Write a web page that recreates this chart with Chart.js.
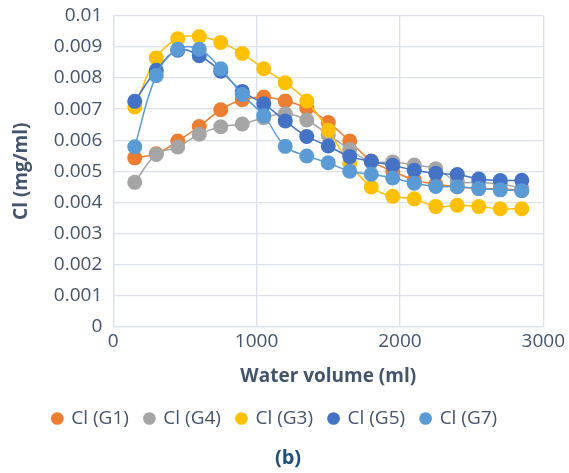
<!DOCTYPE html>
<html lang="en">
<head>
  <meta charset="UTF-8">
  <title>Cl vs water volume</title>
  <script src="https://cdn.jsdelivr.net/npm/chart.js"></script>
  <style>
    html, body {
      margin: 0;
      padding: 0;
      background: #fff;
    }
    #wrap {
      width: 569px;
      height: 473px;
    }
  </style>
</head>
<body>
  <div id="wrap"><canvas id="clChart"></canvas></div>
  <script>
    // water volume (ml)
    const volumes = [150, 300, 450, 600, 750, 900, 1050, 1200, 1350, 1500, 1650, 1800, 1950, 2100, 2250, 2400, 2550, 2700, 2850];

    // Cl (mg/ml) per series
    const clG1 = [0.00543, 0.00556, 0.00597, 0.00644, 0.00698, 0.00730, 0.00739, 0.00726, 0.00704, 0.00657, 0.00597, 0.00533, 0.00500, 0.00472, 0.00458, 0.00450, 0.00444, 0.00443, 0.00438];
    const clG4 = [0.00464, 0.00554, 0.00578, 0.00619, 0.00643, 0.00652, 0.00672, 0.00685, 0.00665, 0.00617, 0.00570, 0.00530, 0.00530, 0.00520, 0.00508, 0.00467, 0.00464, 0.00459, 0.00446];
    const clG3 = [0.00707, 0.00865, 0.00927, 0.00934, 0.00915, 0.00879, 0.00830, 0.00785, 0.00726, 0.00632, 0.00525, 0.00449, 0.00419, 0.00411, 0.00386, 0.00390, 0.00386, 0.00379, 0.00379];
    const clG5 = [0.00725, 0.00825, 0.00890, 0.00872, 0.00822, 0.00757, 0.00717, 0.00662, 0.00612, 0.00581, 0.00547, 0.00532, 0.00519, 0.00503, 0.00493, 0.00489, 0.00475, 0.00470, 0.00471];
    const clG7 = [0.00579, 0.00808, 0.00893, 0.00893, 0.00830, 0.00747, 0.00679, 0.00580, 0.00549, 0.00527, 0.00500, 0.00490, 0.00478, 0.00461, 0.00451, 0.00450, 0.00444, 0.00440, 0.00437];

    const seriesNames = ['Cl (G1)', 'Cl (G4)', 'Cl (G3)', 'Cl (G5)', 'Cl (G7)'];
    const seriesValues = [clG1, clG4, clG3, clG5, clG7];
    const seriesColors = ['#ED7D31', '#A5A5A5', '#FFC000', '#4472C4', '#5B9BD5'];

    const yTickLabels = ['0', '0.001', '0.002', '0.003', '0.004', '0.005', '0.006', '0.007', '0.008', '0.009', '0.01'];
    const xTickLabels = ['0', '1000', '2000', '3000'];

    const textColor = '#44546A';
    const gridColor = '#DDE2EA';
    const fontFamily = '"Open Sans", "Liberation Sans", sans-serif';

    const datasets = seriesNames.map((name, i) => ({
      label: name,
      data: volumes.map((v, j) => ({ x: v, y: seriesValues[i][j] })),
      showLine: true,
      tension: 0.4,
      borderColor: seriesColors[i],
      backgroundColor: seriesColors[i],
      borderWidth: 1.5,
      pointRadius: 7.5,
      pointHoverRadius: 7.5,
      pointBorderWidth: 0,
      // later series sit on top, like the original
      order: seriesNames.length - 1 - i
    }));

    // the original legend sits a bit left of centre
    const legendNudge = {
      id: 'legendNudge',
      afterLayout(chart) {
        chart.legend.left -= 13;
        chart.legend.right -= 13;
      }
    };

    new Chart(document.getElementById('clChart').getContext('2d'), {
      type: 'scatter',
      data: { datasets: datasets },
      plugins: [legendNudge],
      options: {
        responsive: true,
        maintainAspectRatio: false,
        animation: false,
        layout: {
          padding: { left: 10, right: 3, top: 0, bottom: 0 }
        },
        scales: {
          x: {
            type: 'linear',
            min: 0,
            max: 3000,
            grid: { color: gridColor, lineWidth: 1.3, drawTicks: false },
            border: { color: gridColor, width: 1.3 },
            ticks: {
              stepSize: 1000,
              padding: 4,
              color: textColor,
              font: { family: fontFamily, size: 19 },
              callback: (v) => xTickLabels[Math.round(v / 1000)]
            },
            title: {
              display: true,
              text: 'Water volume (ml)',
              color: textColor,
              font: { family: fontFamily, size: 19, weight: 'bold' },
              padding: { top: 8, bottom: 5 }
            }
          },
          y: {
            min: 0,
            max: 0.01,
            // less room above the top label than chart.js wants by default
            afterFit: (scale) => { scale.paddingTop = 16; },
            grid: { color: gridColor, lineWidth: 1.3, drawTicks: false },
            border: { color: gridColor, width: 1.3 },
            ticks: {
              stepSize: 0.001,
              padding: 11,
              color: textColor,
              font: { family: fontFamily, size: 19 },
              callback: (v) => yTickLabels[Math.round(v * 1000)]
            },
            title: {
              display: true,
              text: 'Cl (mg/ml)',
              color: textColor,
              font: { family: fontFamily, size: 19, weight: 'bold' },
              padding: { top: 0, bottom: 10 }
            }
          }
        },
        plugins: {
          legend: {
            position: 'bottom',
            labels: {
              usePointStyle: true,
              pointStyle: 'circle',
              boxWidth: 9,
              boxHeight: 9,
              padding: 16,
              color: textColor,
              font: { family: fontFamily, size: 19 },
              sort: (a, b) => a.datasetIndex - b.datasetIndex
            }
          },
          title: {
            display: true,
            position: 'bottom',
            text: '(b)',
            color: '#1F4E79',
            font: { family: fontFamily, size: 20, weight: 'bold' },
            padding: { top: 8, bottom: 3 }
          },
          tooltip: { enabled: false }
        }
      }
    });
  </script>
</body>
</html>
